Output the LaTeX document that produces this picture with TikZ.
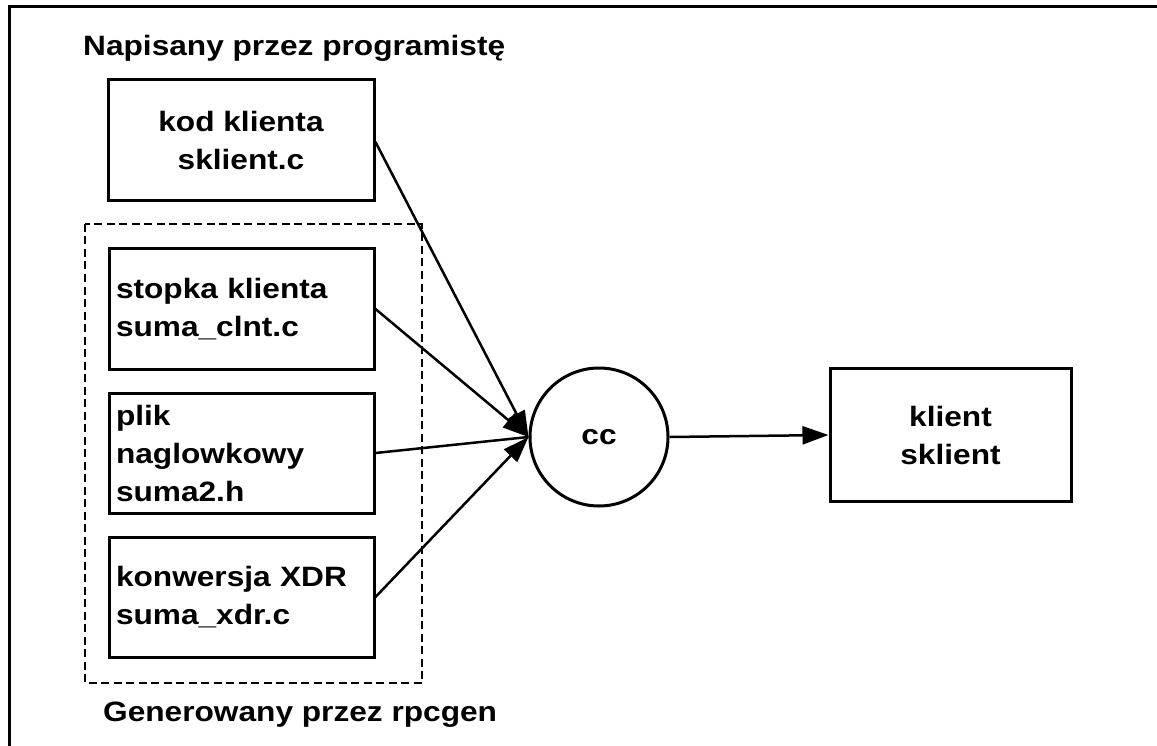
\documentclass[tikz,border=0pt]{standalone}
\usepackage{fontspec}
\setmainfont{Liberation Sans}[FakeStretch=1.13]
\usetikzlibrary{arrows.meta}
\begin{document}
\begin{tikzpicture}[x=1pt,y=-1pt,
  every node/.style={font=\fontsize{28}{38}\selectfont\bfseries},
  box/.style={draw, line width=3pt, rectangle, inner sep=0pt},
  leftbox/.style={box, minimum width=265pt, minimum height=120pt,
    text width=251pt, align=left},
  conn/.style={line width=2.5pt},
  arr/.style={conn, -{Triangle[length=26pt,width=18pt]}}]
  \useasboundingbox (0,0) rectangle (1157,746);
  % frame around the drawing (only top and left edges fall on the page)
  \draw[line width=3pt] (9,760) -- (9,7) -- (1170,7);

  \node[anchor=west, inner sep=0pt] (hand) at (83,48) {Napisany przez programistę};
  \node[box, minimum width=266pt, minimum height=121pt, align=center] (kod) at (241,140.5)
    {kod klienta\\sklient.c};

  % files produced by rpcgen
  \draw[line width=2.5pt, dash pattern=on 8pt off 4.5pt] (85,224) rectangle (422,683);
  \node[leftbox] (stub) at (241.5,309) {stopka klienta\\suma\_clnt.c};
  \node[leftbox] (hdr) at (241.5,453) {plik\\naglowkowy\\suma2.h};
  \node[leftbox] (xdr) at (241.5,597) {konwersja XDR\\suma\_xdr.c};
  \node[anchor=west, inner sep=0pt] (gen) at (103,715) {Generowany przez rpcgen};

  \node[draw, line width=3pt, circle, minimum size=138pt, inner sep=0pt] (cc) at (599,437) {cc};
  \node[box, minimum width=241pt, minimum height=133pt, align=center] (out) at (950.5,435)
    {klient\\sklient};

  \draw[arr] (kod.east) ++(0,1.5) -- (cc.west);
  \draw[arr] (stub.east) -- (cc.west);
  \draw[conn] (hdr.east) -- (cc.west);
  \draw[arr] (xdr.east) -- (cc.west);
  \draw[arr] (cc.east) -- (out.west);
\end{tikzpicture}
\end{document}
